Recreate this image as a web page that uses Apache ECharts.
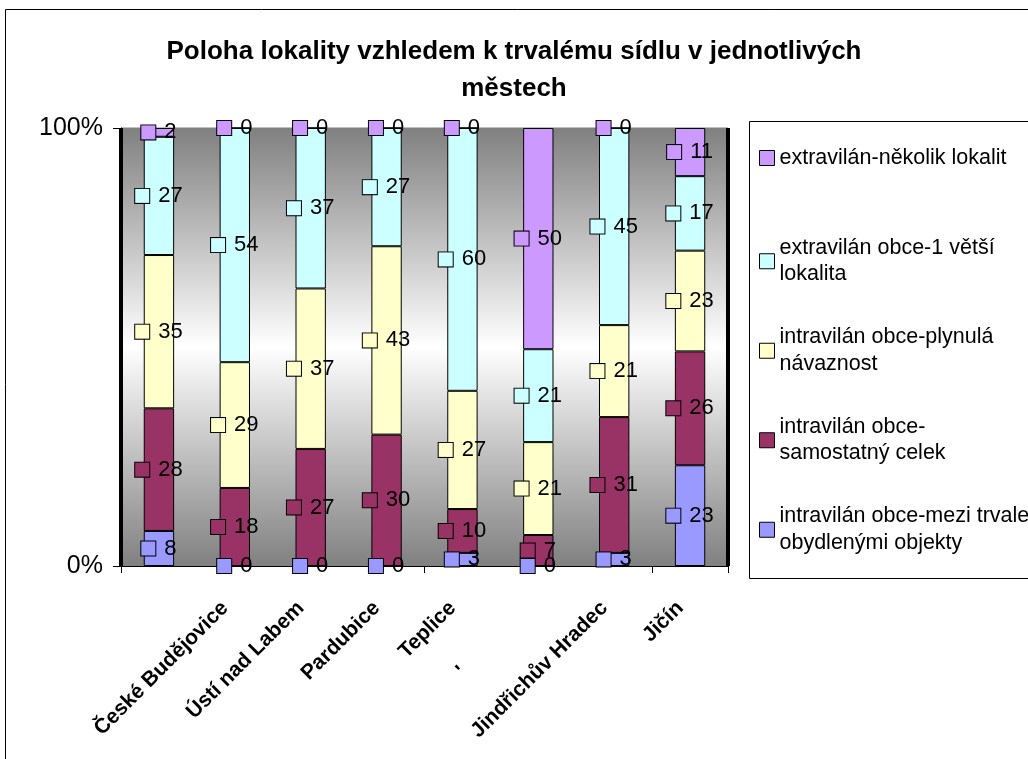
<!DOCTYPE html>
<html>
<head>
<meta charset="utf-8">
<script src="https://cdn.jsdelivr.net/npm/echarts@6/dist/echarts.min.js"></script>
<style>
html,body{margin:0;padding:0;background:#fff;}
#chart{width:1028px;height:759px;}
</style>
</head>
<body>
<div id="chart"></div>
<script>
// ---- data ----
const categories = ['', 'České Budějovice', 'Ústí nad Labem', 'Pardubice', 'Teplice', "'", 'Jindřichův Hradec', 'Jičín'];
const seriesNames = [
  'intravilán obce-mezi trvale obydlenými objekty',
  'intravilán obce-samostatný celek',
  'intravilán obce-plynulá návaznost',
  'extravilán obce-1 větší lokalita',
  'extravilán-několik lokalit'
];
const legendLabels = [
  'intravilán obce-mezi trvale\nobydlenými objekty',
  'intravilán obce-\nsamostatný celek',
  'intravilán obce-plynulá\nnávaznost',
  'extravilán obce-1 větší\nlokalita',
  'extravilán-několik lokalit'
];
const mezi       = [8, 0, 0, 0, 3, 0, 3, 23];
const samostatny = [28, 18, 27, 30, 10, 7, 31, 26];
const plynula    = [35, 29, 37, 43, 27, 21, 21, 23];
const vetsi      = [27, 54, 37, 27, 60, 21, 45, 17];
const nekolik    = [2, 0, 0, 0, 0, 50, 0, 11];
const colors = ['#9999FF', '#993366', '#FFFFCC', '#CCFFFF', '#CC99FF'];
const yTickLabels = ['0%', '100%'];

const raw = [mezi, samostatny, plynula, vetsi, nekolik];
const totals = categories.map((c, i) => raw.reduce((s, arr) => s + arr[i], 0));

const FONT = '"Liberation Sans", Arial, sans-serif';

const series = raw.map((arr, si) => ({
  name: seriesNames[si],
  type: 'bar',
  stack: 'total',
  barCategoryGap: '60%',
  data: arr.map((v, i) => ({ value: v / totals[i] * 100, raw: v })),
  itemStyle: { color: colors[si], borderColor: '#000', borderWidth: 1 },
  label: {
    show: true,
    position: 'inside',
    formatter: p => '{k|}{v|' + p.data.raw + '}',
    rich: {
      k: { width: 14, height: 14, backgroundColor: colors[si], borderColor: '#000', borderWidth: 1 },
      v: { fontSize: 22, fontFamily: FONT, color: '#000', padding: [0, 0, 0, 9] }
    }
  },
  emphasis: { disabled: true },
  z: 3
}));

const chart = echarts.init(document.getElementById('chart'), null, { renderer: 'canvas' });
chart.setOption({
  animation: false,
  backgroundColor: '#fff',
  title: {
    text: 'Poloha lokality vzhledem k trvalému sídlu v jednotlivých\nměstech',
    left: 'center',
    top: 28,
    textStyle: { fontFamily: FONT, fontSize: 26, fontWeight: 'bold', color: '#000', lineHeight: 37 }
  },
  graphic: [
    { type: 'rect', shape: { x: 5.5, y: 9.5, width: 1200, height: 900 }, style: { fill: 'none', stroke: '#000', lineWidth: 1 }, silent: true, z: -1 },
    { type: 'rect', shape: { x: 749.5, y: 121.5, width: 400, height: 457 }, style: { fill: '#fff', stroke: '#000', lineWidth: 1 }, silent: true, z: -1 }
  ],
  legend: {
    orient: 'vertical',
    left: 754,
    top: 115,
    icon: 'rect',
    itemWidth: 15,
    itemHeight: 15,
    itemGap: 41,
    itemStyle: { borderColor: '#000', borderWidth: 1 },
    data: seriesNames.slice().reverse(),
    formatter: name => {
      const idx = seriesNames.indexOf(name);
      return idx === 4
        ? '{one| \n' + legendLabels[idx] + '\n }'
        : '{two|' + legendLabels[idx] + '}';
    },
    textStyle: {
      fontFamily: FONT, fontSize: 21.5, color: '#000',
      rich: {
        one: { fontFamily: FONT, fontSize: 21.5, lineHeight: 27, color: '#000' },
        two: { fontFamily: FONT, fontSize: 21.5, lineHeight: 26.5, color: '#000' }
      }
    }
  },
  grid: {
    left: 121, top: 128, right: 300, bottom: 193,
    show: true,
    borderColor: '#808080',
    borderWidth: 1,
    backgroundColor: {
      type: 'linear', x: 0, y: 0, x2: 0, y2: 1,
      colorStops: [
        { offset: 0, color: '#808080' },
        { offset: 0.5, color: '#ffffff' },
        { offset: 1, color: '#808080' }
      ]
    }
  },
  xAxis: {
    type: 'category',
    data: categories,
    boundaryGap: true,
    axisLine: { show: true, lineStyle: { color: '#000', width: 1 } },
    axisTick: { show: true, interval: 3, length: 7, lineStyle: { color: '#000' } },
    splitLine: {
      show: true,
      interval: (idx) => idx > 0 && idx % 4 === 0,
      lineStyle: { color: '#000', width: 4 }
    },
    axisLabel: {
      interval: 0,
      rotate: 45,
      margin: 29,
      fontFamily: FONT,
      fontSize: 21,
      fontWeight: 'bold',
      color: '#000',
      formatter: v => (v === "'" ? '{far|' + v + '}' : '{n|' + v + '}'),
      rich: {
        n: { fontFamily: FONT, fontSize: 21, fontWeight: 'bold', color: '#000', padding: [0, 14, 0, 0] },
        far: { fontFamily: FONT, fontSize: 21, fontWeight: 'bold', color: '#000', padding: [0, 106, 0, 0] }
      }
    }
  },
  yAxis: {
    type: 'value',
    min: 0,
    max: 100,
    interval: 100,
    axisLine: { show: true, lineStyle: { color: '#000', width: 1 } },
    axisTick: { show: true, length: 8, lineStyle: { color: '#000' } },
    splitLine: { show: false },
    axisLabel: {
      margin: 18,
      fontFamily: FONT,
      fontSize: 25,
      color: '#000',
      formatter: v => (v === 0 ? yTickLabels[0] : yTickLabels[1])
    }
  },
  series: series
});
</script>
</body>
</html>
